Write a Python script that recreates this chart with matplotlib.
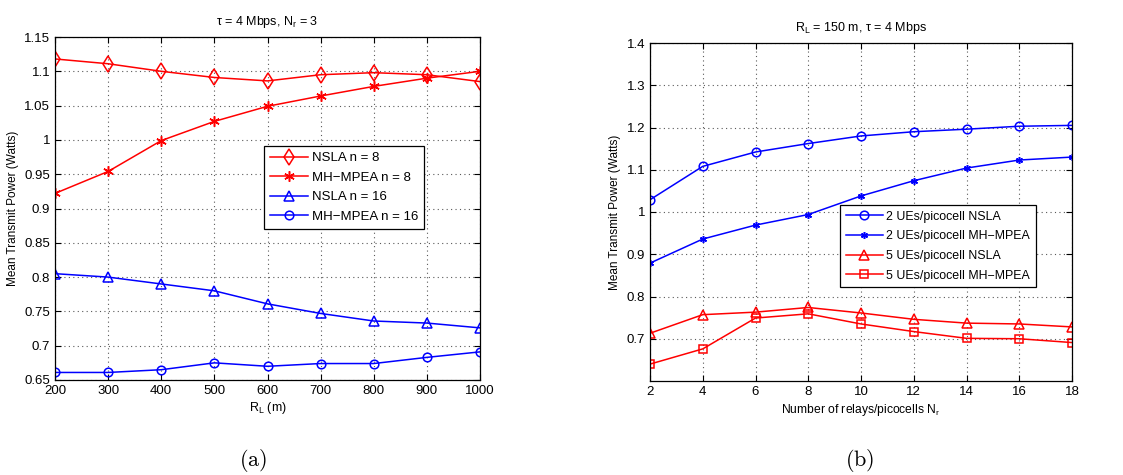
import matplotlib
matplotlib.use('Agg')
from matplotlib import pyplot as plt

# (a) power vs cell radius, tau = 4 Mbps, Nr = 3
radius = [200, 300, 400, 500, 600, 700, 800, 900, 1000]
nsla_n8 = [1.118, 1.111, 1.100, 1.091, 1.086, 1.095, 1.098, 1.095, 1.085]
mpea_n8 = [0.922, 0.954, 0.999, 1.027, 1.049, 1.064, 1.078, 1.090, 1.100]
nsla_n16 = [0.805, 0.800, 0.790, 0.780, 0.761, 0.747, 0.736, 0.733, 0.726]
mpea_n16 = [0.661, 0.661, 0.665, 0.675, 0.670, 0.674, 0.674, 0.683, 0.691]

# (b) power vs number of relays, RL = 150 m, tau = 4 Mbps
relays = [2, 4, 6, 8, 10, 12, 14, 16, 18]
nsla_ue2 = [1.029, 1.108, 1.142, 1.162, 1.180, 1.190, 1.196, 1.203, 1.205]
mpea_ue2 = [0.879, 0.936, 0.969, 0.994, 1.038, 1.074, 1.104, 1.123, 1.130]
nsla_ue5 = [0.713, 0.757, 0.763, 0.774, 0.761, 0.746, 0.737, 0.735, 0.728]
mpea_ue5 = [0.640, 0.676, 0.749, 0.759, 0.735, 0.717, 0.701, 0.700, 0.691]

plt.rcParams.update({
    'font.family': ['Liberation Sans', 'DejaVu Sans'],
    'mathtext.fontset': 'custom',
    'mathtext.rm': 'Liberation Sans',
    'mathtext.it': 'Liberation Sans',
    'font.size': 9,
})

fig = plt.figure(figsize=(11.23, 4.75), dpi=100)
W, H = 1123, 475


def add_axes(x0, y0, x1, y1):
    return fig.add_axes([x0 / W, 1 - y1 / H, (x1 - x0) / W, (y1 - y0) / H])


def style(ax):
    ax.grid(True, linestyle=(0, (1, 3)), color='0.35', linewidth=0.8)
    ax.tick_params(direction='in', length=4, labelsize=9.5, top=True, right=True)
    for s in ax.spines.values():
        s.set_linewidth(0.9)


def mk(size):
    return dict(markerfacecolor='none', markersize=size, linewidth=1.1, markeredgewidth=1.1)


star = (6, 2, 0)

ax1 = add_axes(55, 37, 480, 380)
ax1.plot(radius, nsla_n8, '-', color='red', marker='d', label='NSLA n = 8', **mk(8.5))
ax1.plot(radius, mpea_n8, '-', color='red', marker=star, label='MH\u2212MPEA n = 8', **mk(7.5))
ax1.plot(radius, nsla_n16, '-', color='blue', marker='^', label='NSLA n = 16', **mk(6.8))
ax1.plot(radius, mpea_n16, '-', color='blue', marker='o', label='MH\u2212MPEA n = 16', **mk(6.2))
ax1.set_xlim(200, 1000)
ax1.set_ylim(0.65, 1.15)
ax1.set_xticks(radius)
ax1.set_yticks([0.65, 0.7, 0.75, 0.8, 0.85, 0.9, 0.95, 1.0, 1.05, 1.1, 1.15])
ax1.set_yticklabels(['0.65', '0.7', '0.75', '0.8', '0.85', '0.9', '0.95', '1', '1.05', '1.1', '1.15'])
style(ax1)
ax1.set_title(r'$\tau$ = 4 Mbps, N$_\mathrm{r}$ = 3', fontsize=9, pad=9)
ax1.set_xlabel(r'R$_\mathrm{L}$ (m)', fontsize=9, labelpad=2)
ax1.set_ylabel('Mean Transmit Power (Watts)', fontsize=8.5, labelpad=4)
leg1 = ax1.legend(loc='upper left', bbox_to_anchor=((264 - 55) / 425, 1 - (146 - 37) / 343),
                  fontsize=9.5, fancybox=False, edgecolor='black', framealpha=1,
                  handlelength=2.9, borderpad=0.45, labelspacing=0.55, handletextpad=0.3,
                  borderaxespad=0)
leg1.get_frame().set_linewidth(0.9)

ax2 = add_axes(650, 43, 1072, 381)
ax2.plot(relays, nsla_ue2, '-', color='blue', marker='o', label='2 UEs/picocell NSLA', **mk(6.2))
ax2.plot(relays, mpea_ue2, '-', color='blue', marker=star, label='2 UEs/picocell MH\u2212MPEA', **mk(5))
ax2.plot(relays, nsla_ue5, '-', color='red', marker='^', label='5 UEs/picocell NSLA', **mk(6.8))
ax2.plot(relays, mpea_ue5, '-', color='red', marker='s', label='5 UEs/picocell MH\u2212MPEA', **mk(5.3))
ax2.set_xlim(2, 18)
ax2.set_ylim(0.6, 1.4)
ax2.set_xticks(relays)
ax2.set_yticks([0.7, 0.8, 0.9, 1.0, 1.1, 1.2, 1.3, 1.4])
ax2.set_yticklabels(['0.7', '0.8', '0.9', '1', '1.1', '1.2', '1.3', '1.4'])
style(ax2)
ax2.set_title(r'R$_\mathrm{L}$ = 150 m, $\tau$ = 4 Mbps', fontsize=9, pad=9)
ax2.set_xlabel(r'Number of relays/picocells N$_\mathrm{r}$', fontsize=8.7, labelpad=3)
ax2.set_ylabel('Mean Transmit Power (Watts)', fontsize=8.5, labelpad=4)
leg2 = ax2.legend(loc='upper left', bbox_to_anchor=((840 - 650) / 422, 1 - (205 - 43) / 338),
                  fontsize=8.9, fancybox=False, edgecolor='black', framealpha=1,
                  handlelength=3.0, borderpad=0.45, labelspacing=0.62, handletextpad=0.3,
                  borderaxespad=0)
leg2.get_frame().set_linewidth(0.9)

cap = dict(fontsize=16, ha='center', va='center', math_fontfamily='cm')
fig.text(253 / W, 1 - 460 / H, r'$\mathrm{(a)}$', **cap)
fig.text(860 / W, 1 - 460 / H, r'$\mathrm{(b)}$', **cap)

fig.savefig('out.png', dpi=100)
